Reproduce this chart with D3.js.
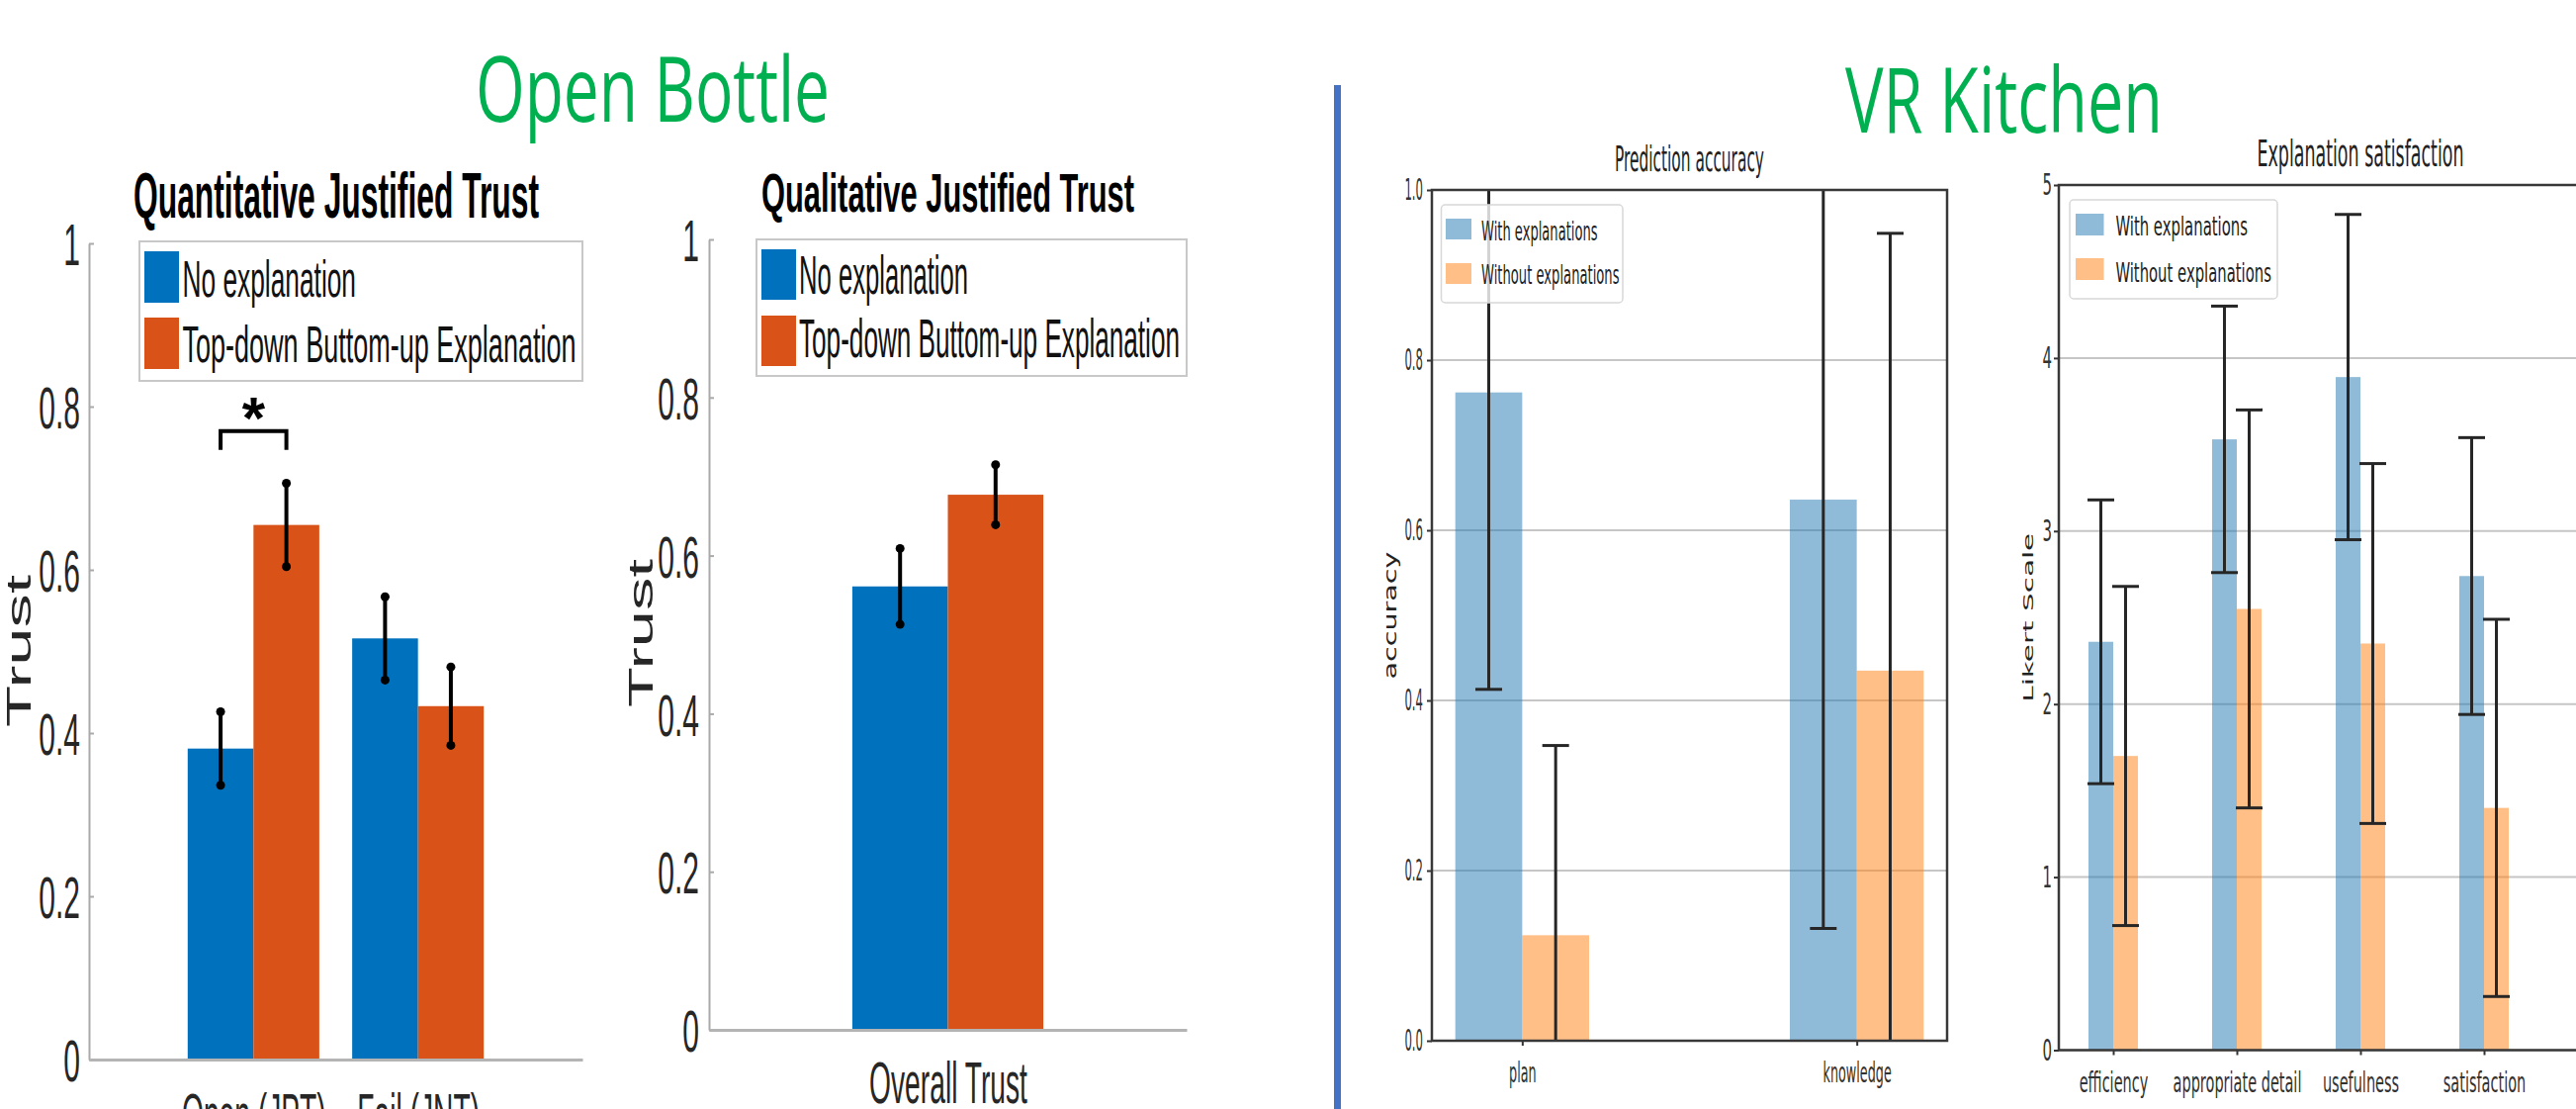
<!DOCTYPE html>
<html><head><meta charset="utf-8">
<script src="https://cdn.jsdelivr.net/npm/d3@7"></script>
<style>html,body{margin:0;padding:0;background:#fff;overflow:hidden}</style>
</head><body><svg id="c" width="2605" height="1121" style="display:block;background:#fff"></svg>
<script>
// ---------------- data ----------------
const panelTitles = ["Open Bottle", "VR Kitchen"];

const quantTitle = "Quantitative Justified Trust";
const quantCategories = ["Open (JPT)", "Fail (JNT)"];
const quantNoExpl = [0.381, 0.516];
const quantNoExplErr = [0.045, 0.051];
const quantTopDown = [0.655, 0.433];
const quantTopDownErr = [0.051, 0.048];
const quantSignificance = [{ category: 0, level: 0.77, leg: 0.023, mark: "*" }];

const qualTitle = "Qualitative Justified Trust";
const qualCategories = ["Overall Trust"];
const qualNoExpl = [0.561];
const qualNoExplErr = [0.048];
const qualTopDown = [0.677];
const qualTopDownErr = [0.038];

const trustTicks = [0, 0.2, 0.4, 0.6, 0.8, 1];
const trustTickLabels = ["0", "0.2", "0.4", "0.6", "0.8", "1"];
const trustLegend = ["No explanation", "Top-down Buttom-up Explanation"];
const trustAxisLabel = "Trust";

const accTitle = "Prediction accuracy";
const accCategories = ["plan", "knowledge"];
const accWith = [0.762, 0.636];
const accWithErr = [0.349, 0.504];
const accWithout = [0.124, 0.435];
const accWithoutErr = [0.223, 0.514];
const accTicks = [0, 0.2, 0.4, 0.6, 0.8, 1.0];
const accTickLabels = ["0.0", "0.2", "0.4", "0.6", "0.8", "1.0"];
const accAxisLabel = "accuracy";

const satTitle = "Explanation satisfaction";
const satCategories = ["efficiency", "appropriate detail", "usefulness", "satisfaction"];
const satWith = [2.36, 3.53, 3.89, 2.74];
const satWithErr = [0.82, 0.77, 0.94, 0.80];
const satWithout = [1.70, 2.55, 2.35, 1.40];
const satWithoutErr = [0.98, 1.15, 1.04, 1.09];
const satTicks = [0, 1, 2, 3, 4, 5];
const satTickLabels = ["0", "1", "2", "3", "4", "5"];
const satAxisLabel = "Likert Scale";

const pyLegend = ["With explanations", "Without explanations"];

// ---------------- helpers ----------------
const svg = d3.select('#c');
const HELV = "'Liberation Sans', Arial, Helvetica, sans-serif";
const DEJA = "'DejaVu Sans', sans-serif";
const CAL = "'Open Sans', 'Noto Sans', sans-serif";

function squeeze(sel, f) {
  sel.each(function () {
    const w = this.getComputedTextLength();
    d3.select(this).attr('textLength', w * f).attr('lengthAdjust', 'spacingAndGlyphs');
  });
}
function label(g, o) {
  const t = g.append('text').text(o.text)
    .attr('font-family', o.family).attr('font-size', o.size)
    .attr('font-weight', o.weight || 'normal').attr('fill', o.fill || '#000')
    .attr('text-anchor', o.anchor || 'start');
  if (o.rotate) t.attr('transform', `translate(${o.x},${o.y}) rotate(${o.rotate})`);
  else t.attr('x', o.x).attr('y', o.y);
  if (o.width) t.attr('textLength', o.width).attr('lengthAdjust', 'spacingAndGlyphs');
  return t;
}

// ---------------- panel titles & divider ----------------
label(svg, { text: panelTitles[0], x: 481, y: 123, size: 92, family: CAL, fill: '#00B050', width: 358 });
label(svg, { text: panelTitles[1], x: 1866, y: 134, size: 91, family: CAL, fill: '#00B050', width: 321 });
svg.append('rect').attr('x', 1349).attr('y', 86).attr('width', 7).attr('height', 1121 - 86).attr('fill', '#4472C4');

// ---------------- MATLAB-style charts ----------------
function matlabChart(c) {
  const g = svg.append('g');
  const x = d3.scaleLinear().domain(c.xDomain).range([c.left, c.right]);
  const y = d3.scaleLinear().domain([0, 1]).range([c.bottom, c.top]);
  const colors = ['#0072BD', '#D95319'];
  const series = [
    { vals: c.a, errs: c.aErr, color: colors[0], off: -0.4 },
    { vals: c.b, errs: c.bErr, color: colors[1], off: 0 }
  ];
  const bw = x(0.4) - x(0);

  // y axis
  const ya = d3.axisLeft(y).tickValues(trustTicks).tickFormat((d, i) => trustTickLabels[i])
    .tickSizeInner(-5).tickSizeOuter(0).tickPadding(c.pad);
  const yg = g.append('g').attr('transform', `translate(${c.left},0)`).call(ya);
  yg.select('.domain').attr('stroke', '#aaaaaa').attr('stroke-width', 2);
  yg.selectAll('.tick line').attr('stroke', '#aaaaaa').attr('stroke-width', 2);
  yg.selectAll('text').attr('font-family', HELV).attr('font-size', 60).attr('fill', '#262626')
    .attr('dy', '0.36em').call(squeeze, 0.5);

  // bars
  series.forEach(s => {
    g.append('g').selectAll('rect').data(s.vals).join('rect')
      .attr('x', (d, i) => x(i + 1 + s.off)).attr('width', bw)
      .attr('y', d => y(d)).attr('height', d => y(0) - y(d)).attr('fill', s.color);
  });

  // x axis
  const xa = d3.axisBottom(x).tickValues(c.cats.map((d, i) => i + 1)).tickFormat((d, i) => c.cats[i])
    .tickSize(0).tickPadding(c.xpad);
  const xg = g.append('g').attr('transform', `translate(0,${c.bottom})`).call(xa);
  xg.select('.domain').attr('stroke', '#b4b4b4').attr('stroke-width', 3);
  xg.selectAll('text').attr('font-family', HELV).attr('font-size', 60).attr('fill', '#262626').call(squeeze, 0.47);

  // error bars
  series.forEach(s => {
    const eg = g.append('g');
    const items = s.vals.map((v, i) => ({ cx: x(i + 1 + s.off + 0.2), lo: y(v - s.errs[i]), hi: y(v + s.errs[i]) }));
    eg.selectAll('line').data(items).join('line')
      .attr('x1', d => d.cx).attr('x2', d => d.cx).attr('y1', d => d.lo).attr('y2', d => d.hi)
      .attr('stroke', '#000').attr('stroke-width', 4);
    eg.selectAll('circle.lo').data(items).join('circle').attr('class', 'lo')
      .attr('cx', d => d.cx).attr('cy', d => d.lo).attr('r', 4.5).attr('fill', '#000');
    eg.selectAll('circle.hi').data(items).join('circle').attr('class', 'hi')
      .attr('cx', d => d.cx).attr('cy', d => d.hi).attr('r', 4.5).attr('fill', '#000');
  });

  // significance
  (c.sig || []).forEach(s => {
    const xa1 = x(s.category + 1 - 0.2), xa2 = x(s.category + 1 + 0.2);
    const yl = y(s.level), yb = y(s.level - s.leg);
    g.append('path').attr('d', `M${xa1},${yb}V${yl}H${xa2}V${yb}`)
      .attr('fill', 'none').attr('stroke', '#000').attr('stroke-width', 4);
    label(g, { text: s.mark, x: x(s.category + 1), y: yl + 7, size: 60, family: HELV, weight: 'bold', anchor: 'middle' });
  });

  // legend
  const L = c.legend;
  const lg = g.append('g');
  lg.append('rect').attr('x', L.x).attr('y', L.y).attr('width', L.w).attr('height', L.h)
    .attr('fill', '#fff').attr('stroke', '#c8c8c8').attr('stroke-width', 2);
  trustLegend.forEach((t, i) => {
    lg.append('rect').attr('x', L.sx).attr('y', L.rows[i]).attr('width', L.sw).attr('height', L.sh).attr('fill', colors[i]);
    label(lg, { text: t, x: L.tx, y: L.base[i], size: L.size, family: HELV, fill: '#111', width: L.widths[i] });
  });

  // title & y label
  label(g, { text: c.title, x: c.titleX, y: c.titleY, size: c.titleSize, family: HELV, weight: 'bold', anchor: 'middle', width: c.titleW });
  label(g, { text: trustAxisLabel, x: c.ylabX, y: c.ylabY, rotate: -90, size: 35, family: HELV, fill: '#262626', anchor: 'middle', width: c.ylabW });
}

matlabChart({
  left: 90, right: 589, top: 246, bottom: 1071, xDomain: [0, 3], pad: 9, xpad: 33,
  cats: quantCategories, a: quantNoExpl, aErr: quantNoExplErr, b: quantTopDown, bErr: quantTopDownErr,
  sig: quantSignificance,
  legend: { x: 141, y: 244, w: 448, h: 141, sx: 146, sw: 35, sh: 52, rows: [254, 321], tx: 184.5, base: [300, 366], widths: [175.5, 398], size: 52 },
  title: quantTitle, titleX: 340, titleY: 220, titleSize: 64, titleW: 410,
  ylabX: 31, ylabY: 658, ylabW: 154
});

matlabChart({
  left: 717, right: 1200, top: 242, bottom: 1041, xDomain: [0, 2], pad: 10, xpad: 31,
  cats: qualCategories, a: qualNoExpl, aErr: qualNoExplErr, b: qualTopDown, bErr: qualTopDownErr,
  legend: { x: 765, y: 242, w: 435, h: 138, sx: 770, sw: 35, sh: 51, rows: [252, 319], tx: 808, base: [297, 361], widths: [171, 385], size: 55 },
  title: qualTitle, titleX: 958.5, titleY: 214, titleSize: 55, titleW: 377,
  ylabX: 660, ylabY: 640, ylabW: 150
});

// ---------------- matplotlib-style charts ----------------
function pyChart(c) {
  const g = svg.append('g');
  const x = d3.scaleLinear().domain(c.xDomain).range([c.left, c.right]);
  const y = d3.scaleLinear().domain(c.yDomain).range([c.bottom, c.top]);
  const colors = ['#1f77b4', '#ff7f0e'];
  const series = [
    { vals: c.a, errs: c.aErr, color: colors[0], off: -0.2 },
    { vals: c.b, errs: c.bErr, color: colors[1], off: 0 }
  ];
  const bw = x(0.2) - x(0);
  svg.append('defs').append('clipPath').attr('id', c.id)
    .append('rect').attr('x', c.left).attr('y', c.top).attr('width', c.right - c.left).attr('height', c.bottom - c.top);

  // grid
  g.append('g').selectAll('line').data(c.ticks).join('line')
    .attr('x1', c.left).attr('x2', c.right).attr('y1', d => y(d)).attr('y2', d => y(d))
    .attr('stroke', '#c6c6c6').attr('stroke-width', 2);

  // bars
  const pg = g.append('g').attr('clip-path', `url(#${c.id})`);
  series.forEach(s => {
    pg.append('g').selectAll('rect').data(s.vals).join('rect')
      .attr('x', (d, i) => x(i + s.off)).attr('width', bw)
      .attr('y', d => y(d)).attr('height', d => y(0) - y(d))
      .attr('fill', s.color).attr('fill-opacity', 0.5);
  });
  // error bars
  series.forEach(s => {
    const eg = pg.append('g');
    const items = s.vals.map((v, i) => ({ cx: x(i + s.off + 0.1), lo: y(v - s.errs[i]), hi: y(v + s.errs[i]) }));
    eg.selectAll('line.v').data(items).join('line').attr('class', 'v')
      .attr('x1', d => d.cx).attr('x2', d => d.cx).attr('y1', d => d.lo).attr('y2', d => d.hi)
      .attr('stroke', '#262626').attr('stroke-width', 3);
    ['lo', 'hi'].forEach(k => {
      eg.selectAll('line.' + k).data(items).join('line').attr('class', k)
        .attr('x1', d => d.cx - 13.5).attr('x2', d => d.cx + 13.5).attr('y1', d => d[k]).attr('y2', d => d[k])
        .attr('stroke', '#262626').attr('stroke-width', 3);
    });
  });

  // axes
  const ya = d3.axisLeft(y).tickValues(c.ticks).tickFormat((d, i) => c.tickLabels[i]).tickSize(5).tickPadding(c.pad);
  const yg = g.append('g').attr('transform', `translate(${c.left},0)`).call(ya);
  yg.select('.domain').remove();
  yg.selectAll('.tick line').attr('stroke', '#333').attr('stroke-width', 2);
  yg.selectAll('text').attr('font-family', DEJA).attr('font-size', 30).attr('fill', '#333').call(squeeze, c.tickF);

  const xa = d3.axisBottom(x).tickValues(c.cats.map((d, i) => i)).tickFormat((d, i) => c.cats[i]).tickSize(5).tickPadding(c.xpad);
  const xg = g.append('g').attr('transform', `translate(0,${c.bottom})`).call(xa);
  xg.select('.domain').remove();
  xg.selectAll('.tick line').attr('stroke', '#333').attr('stroke-width', 2);
  xg.selectAll('text').attr('font-family', DEJA).attr('font-size', 29).attr('fill', '#333').call(squeeze, c.labF);

  // spines
  g.append('rect').attr('x', c.left).attr('y', c.top).attr('width', c.right - c.left).attr('height', c.bottom - c.top)
    .attr('fill', 'none').attr('stroke', '#383838').attr('stroke-width', 2.5);

  // legend
  const L = c.legend;
  const lg = g.append('g');
  lg.append('rect').attr('x', L.x).attr('y', L.y).attr('width', L.w).attr('height', L.h).attr('rx', 4)
    .attr('fill', '#fff').attr('fill-opacity', 0.8).attr('stroke', '#d8d8d8').attr('stroke-width', 1.5);
  pyLegend.forEach((t, i) => {
    lg.append('rect').attr('x', L.sx).attr('y', L.rows[i]).attr('width', L.sw).attr('height', L.sh)
      .attr('fill', colors[i]).attr('fill-opacity', 0.5);
    label(lg, { text: t, x: L.tx, y: L.base[i], size: 27, family: DEJA, fill: '#222', width: L.widths[i] });
  });

  // title & ylabel
  label(g, { text: c.title, x: (c.left + c.right) / 2, y: c.titleY, size: c.titleSize, family: DEJA, fill: '#222', anchor: 'middle', width: c.titleW });
  label(g, { text: c.ylab, x: c.ylabX, y: (c.top + c.bottom) / 2, rotate: -90, size: c.ylabSize, family: DEJA, fill: '#222', anchor: 'middle', width: c.ylabW });
}

pyChart({
  id: 'clipAcc', left: 1448, right: 1969, top: 192, bottom: 1052, xDomain: [-0.27, 1.27], yDomain: [0, 1],
  ticks: accTicks, tickLabels: accTickLabels, pad: 4, xpad: 16, tickF: 0.39, labF: 0.44,
  cats: accCategories, a: accWith, aErr: accWithErr, b: accWithout, bErr: accWithoutErr,
  legend: { x: 1457.5, y: 207, w: 183.5, h: 99, sx: 1462, sw: 26, sh: 21, rows: [221, 266], tx: 1498, base: [243, 287], widths: [117.5, 139.5] },
  title: accTitle, titleY: 173, titleSize: 36, titleW: 151,
  ylab: accAxisLabel, ylabX: 1412, ylabSize: 17, ylabW: 129
});

pyChart({
  id: 'clipSat', left: 2082, right: 2692, top: 187, bottom: 1061.5, xDomain: [-0.44, 4.44], yDomain: [0, 5],
  ticks: satTicks, tickLabels: satTickLabels, pad: 2, xpad: 17, tickF: 0.5, labF: 0.5,
  cats: satCategories, a: satWith, aErr: satWithErr, b: satWithout, bErr: satWithoutErr,
  legend: { x: 2093, y: 202, w: 210, h: 100, sx: 2099, sw: 28.5, sh: 22, rows: [216, 261], tx: 2139.4, base: [238, 284.5], widths: [133.6, 157.5] },
  title: satTitle, titleY: 168, titleSize: 38, titleW: 209,
  ylab: satAxisLabel, ylabX: 2056, ylabSize: 14, ylabW: 171
});
</script>
</body></html>
